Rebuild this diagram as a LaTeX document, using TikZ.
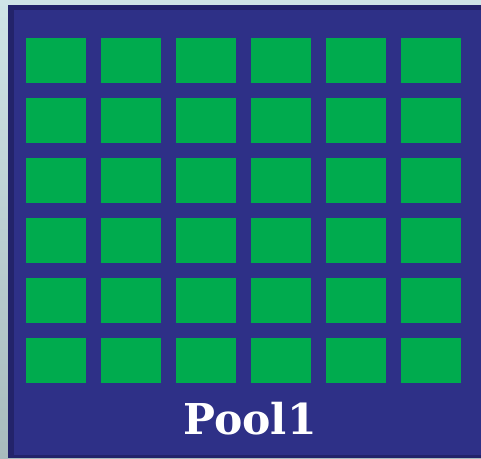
\documentclass[tikz,border=0pt]{standalone}
\usepackage{fontspec}
\usepackage{tikz}
\newfontfamily\labelfont{DejaVu Serif}

\definecolor{bgtop}{HTML}{CFE4E7}
\definecolor{bgbot}{HTML}{A8BBBD}
\definecolor{pooledge}{HTML}{23236A}
\definecolor{poolblue}{HTML}{2E3087}
\definecolor{cellgreen}{HTML}{00AB4E}

\begin{document}
\begin{tikzpicture}[x=1pt,y=-1pt,
        cell/.style={fill=cellgreen}]
        \useasboundingbox (0,0) rectangle (481,458);

        % background and pool frame
        \shade[top color=bgtop,bottom color=bgbot] (0,0) rectangle (481,458);
        \fill[pooledge] (8,5) rectangle (481,458);
        \fill[poolblue] (14,10) rectangle (481,455);

        % 6x6 grid of cells
        \foreach \i in {0,...,5}
          \foreach \j in {0,...,5}
            \fill[cell] ({26+75*\i},{38+60*\j}) rectangle ++(60,45);

        \node[anchor=base,text=white,inner sep=0pt,
              font=\labelfont\bfseries\fontsize{42.5}{50}\selectfont] (label) at (250,434) {Pool1};
\end{tikzpicture}
\end{document}
